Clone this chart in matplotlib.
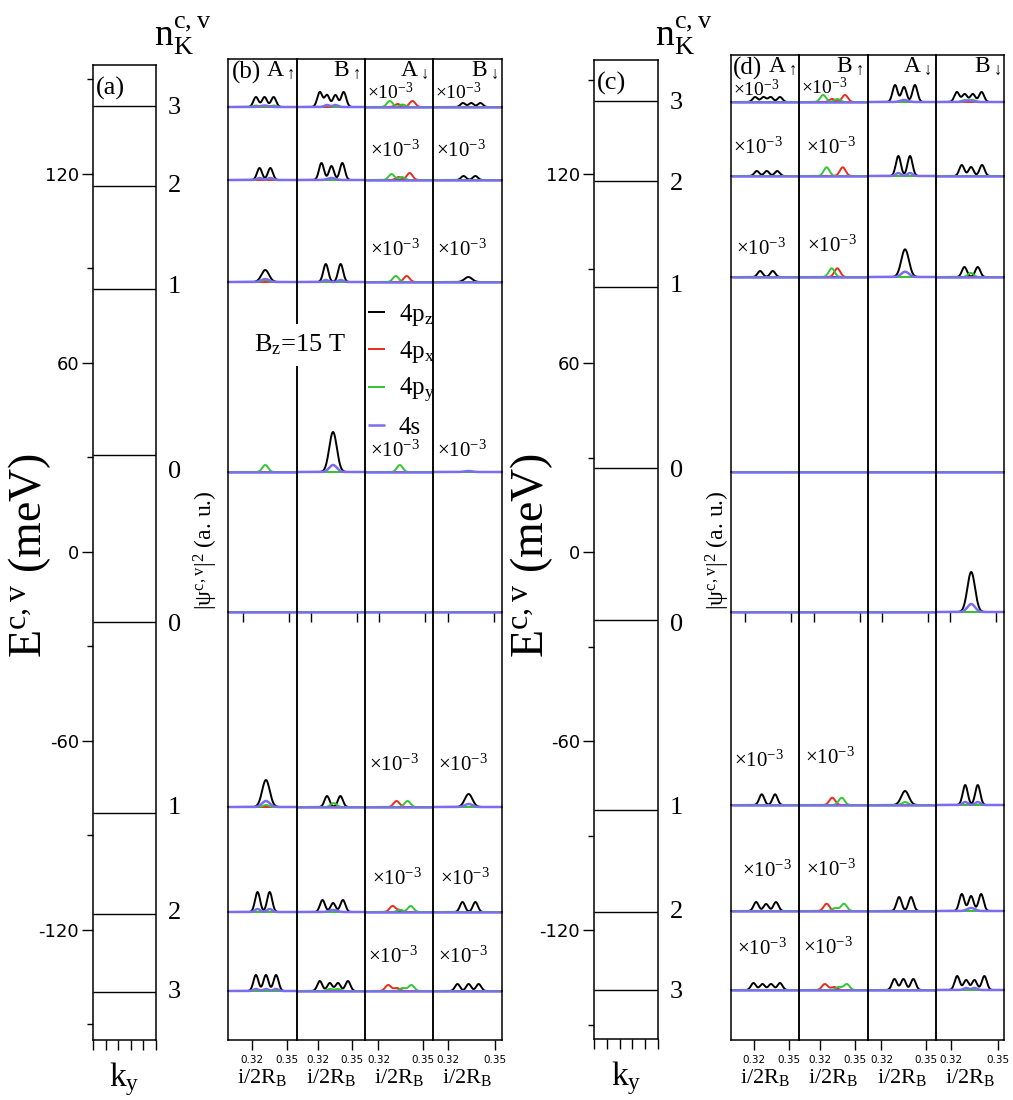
import numpy as np
import matplotlib.pyplot as plt
import matplotlib.transforms as mtransforms

plt.rcParams['font.family'] = ['Liberation Serif', 'DejaVu Serif']
plt.rcParams['mathtext.default'] = 'regular'
plt.rcParams['axes.unicode_minus'] = False

W, H = 1013, 1100
SANS = 'DejaVu Sans'

# ---------------- data ----------------
# Landau level energies (meV), panels (a) and (c)
A_LEVELS = [141.6, 116.2, 83.5, 30.8, -22.2, -82.9, -114.9, -139.7]
C_LEVELS = [143.2, 117.8, 84.1, 26.7, -21.6, -81.9, -114.3, -139.0]
NK_LABELS = ['3', '2', '1', '0', '0', '1', '2', '3']
A_LABEL_E = [140.9, 116.2, 84.1, 25.4, -23.2, -81.3, -114.6, -139.7]
C_LABEL_E = [142.5, 116.8, 84.5, 25.7, -23.2, -81.3, -114.3, -139.7]
E_TICKS = [-120, -60, 0, 60, 120]
E_MINOR = [-150, -90, -30, 30, 90, 150]

COLUMNS = ['A$_{\\uparrow}$', 'B$_{\\uparrow}$', 'A$_{\\downarrow}$', 'B$_{\\downarrow}$']
COL_XLIM = [(0.2997, 0.3590), (0.3015, 0.3615), (0.3110, 0.3565), (0.3102, 0.3542)]
ZERO_XLIM = (0.3105, 0.3555)
X_TICKS = [0.32, 0.35]

# |psi|^2 humps (centre, height a.u.), rows: n=3,2,1,0 (c), 0,1,2,3 (v); columns A_up, B_up, A_dn, B_dn
B_PZ = [
    [[(0.3237, 10), (0.3311, 10), (0.3389, 10)], [(0.3216, 15), (0.3280, 12), (0.3354, 12), (0.3427, 15)], [], [(0.3293, 4), (0.3346, 4), (0.3404, 4)]],
    [[(0.3268, 12), (0.3361, 12)], [(0.3231, 17), (0.3319, 14), (0.3415, 17)], [], [(0.3297, 4), (0.3372, 4)]],
    [[(0.3317, 12)], [(0.3269, 18), (0.3400, 18)], [], [(0.3327, 5)]],
    [[], [(0.3333, 40)], [], []],
    [[], [], [], []],
    [[(0.3323, 27)], [(0.3280, 11), (0.3398, 11)], [], [(0.3329, 13)]],
    [[(0.3251, 20), (0.3355, 20)], [(0.3240, 12), (0.3333, 9), (0.3420, 12)], [], [(0.3290, 10), (0.3372, 10)]],
    [[(0.3237, 16), (0.3323, 16), (0.3410, 16)], [(0.3216, 10), (0.3304, 8), (0.3377, 8), (0.3464, 10)], [], [(0.3258, 7), (0.3329, 7), (0.3393, 7)]],
]
B_PX = [
    [[], [], [(0.3427, 6), (0.3329, 3)], []],
    [[], [], [(0.3409, 7), (0.3336, 3)], []],
    [[], [], [(0.3389, 6)], []],
    [[], [], [], []],
    [[], [], [], []],
    [[], [], [(0.3321, 6)], []],
    [[], [], [(0.3294, 6), (0.3343, 2)], []],
    [[], [], [(0.3265, 6), (0.3323, 3)], []],
]
B_PY = [
    [[(0.3237, 1.5), (0.3389, 1.5)], [(0.3280, 1.5)], [(0.3276, 6), (0.3362, 2.5)], []],
    [[(0.3268, 1.5), (0.3361, 1.5)], [], [(0.3287, 6), (0.3356, 3)], []],
    [[(0.3317, 2)], [], [(0.3316, 6)], []],
    [[(0.3317, 7)], [], [(0.3343, 7)], []],
    [[], [], [], []],
    [[(0.3323, 2)], [(0.3339, 4)], [(0.3394, 6)], []],
    [[], [], [(0.3416, 6), (0.3343, 2)], []],
    [[], [(0.3304, 2), (0.3377, 2)], [(0.3420, 6), (0.3362, 3)], []],
]
B_S = [
    [[(0.3311, 1.5)], [(0.3280, 2), (0.3354, 2)], [], []],
    [[(0.3268, 2), (0.3361, 2)], [(0.3319, 2)], [], []],
    [[(0.3317, 3)], [(0.3269, 2), (0.3400, 2)], [], []],
    [[], [(0.3333, 7)], [], [(0.3327, 1)]],
    [[], [], [], []],
    [[(0.3323, 6)], [], [], [(0.3329, 3)]],
    [[(0.3251, 3), (0.3355, 3)], [(0.3333, 2)], [], []],
    [[(0.3237, 2), (0.3323, 2), (0.3410, 2)], [], [], []],
]

D_PZ = [
    [[(0.3207, 5), (0.3280, 5), (0.3343, 5), (0.3424, 5)], [], [(0.3291, 17), (0.3351, 15), (0.3424, 17)], [(0.3237, 10), (0.3288, 8), (0.3340, 8), (0.3397, 10)]],
    [[(0.3222, 5), (0.3309, 5), (0.3400, 5)], [], [(0.3313, 20), (0.3391, 20)], [(0.3269, 11), (0.3329, 9), (0.3400, 11)]],
    [[(0.3251, 6), (0.3361, 6)], [], [(0.3358, 27.7)], [(0.3286, 10), (0.3372, 10)]],
    [[], [], [], []],
    [[], [], [], [(0.3338, 40)]],
    [[(0.3265, 10.7), (0.3381, 10.7)], [], [(0.3358, 14)], [(0.3291, 20), (0.3372, 20)]],
    [[(0.3216, 9), (0.3303, 7), (0.3389, 9)], [], [(0.3318, 14), (0.3398, 14)], [(0.3269, 17), (0.3329, 15), (0.3394, 17)]],
    [[(0.3193, 7), (0.3271, 6), (0.3346, 6), (0.3424, 7)], [], [(0.3287, 11), (0.3347, 11), (0.3413, 11)], [(0.3239, 14), (0.3297, 10), (0.3351, 10), (0.3415, 14)]],
]
D_PX = [
    [[], [(0.3415, 7), (0.3304, 3)], [], []],
    [[], [(0.3395, 8.7)], [], []],
    [[], [(0.3348, 8.7)], [], []],
    [[], [], [], []],
    [[], [], [], []],
    [[], [(0.3304, 7.3)], [], []],
    [[], [(0.3255, 7.3)], [], []],
    [[], [(0.3240, 6), (0.3320, 3)], [], []],
]
D_PY = [
    [[], [(0.3225, 7), (0.3348, 3)], [], [(0.3288, 2), (0.3340, 2)]],
    [[], [(0.3255, 8.7)], [], []],
    [[], [(0.3299, 8.7)], [], [(0.3327, 4)]],
    [[], [], [], []],
    [[], [], [], []],
    [[], [(0.3386, 7.3)], [(0.3358, 3)], []],
    [[], [(0.3406, 7.3), (0.3330, 3)], [], []],
    [[], [(0.3430, 6), (0.3360, 3)], [], []],
]
D_S = [
    [[], [], [(0.3351, 2)], [(0.3314, 1.5)]],
    [[], [], [(0.3313, 3), (0.3391, 3)], []],
    [[], [], [(0.3358, 5.3)], []],
    [[], [], [], []],
    [[], [], [], [(0.3338, 8)]],
    [[], [], [], [(0.3291, 3), (0.3372, 3)]],
    [[], [], [], [(0.3329, 3)]],
    [[], [], [], [(0.3297, 2), (0.3351, 2)]],
]

# "x10^-3" notes: (row, column, x, y, size) in cell axes fraction
B_NOTES = [(0, 2, 0.03, 0.17, 14), (0, 3, 0.03, 0.17, 14), (1, 2, 0.08, 0.32, 15), (1, 3, 0.05, 0.32, 15),
           (2, 2, 0.07, 0.26, 15), (2, 3, 0.06, 0.26, 15), (3, 2, 0.07, 0.08, 15), (3, 3, 0.06, 0.08, 15),
           (5, 2, 0.06, 0.185, 15), (5, 3, 0.07, 0.185, 15), (6, 2, 0.11, 0.26, 15), (6, 3, 0.10, 0.26, 15),
           (7, 2, 0.05, 0.36, 15), (7, 3, 0.07, 0.36, 15)]
D_NOTES = [(0, 0, 0.03, 0.12, 14), (0, 1, 0.03, 0.17, 14), (1, 0, 0.03, 0.305, 15), (1, 1, 0.10, 0.30, 15),
           (2, 0, 0.08, 0.22, 15), (2, 1, 0.11, 0.245, 15), (5, 0, 0.05, 0.20, 15), (5, 1, 0.08, 0.215, 15),
           (6, 0, 0.16, 0.32, 15), (6, 1, 0.10, 0.33, 15), (7, 0, 0.09, 0.44, 15), (7, 1, 0.06, 0.46, 15)]

ORBITALS = ['4p$_z$', '4p$_x$', '4p$_y$', '4s']
COLORS = ['black', '#ee2a1e', '#33c633', '#7b6cf0']

# ---------------- layout (pixels) ----------------
B_COLS_X = [228, 297, 365, 433, 502]
B_ROWS_Y = [59, 107, 180, 282, 472, 612, 807, 912, 991, 1040]
D_COLS_X = [731, 799, 868, 936, 1004]
D_ROWS_Y = [55, 102, 176, 277, 472, 612, 805, 911, 990, 1040]

fig = plt.figure(figsize=(W / 100, H / 100), dpi=100)
fig.patch.set_facecolor('white')


def px_axes(left, top, right, bottom):
    return fig.add_axes([left / W, 1 - bottom / H, (right - left) / W, (bottom - top) / H])


def level_panel(left, top, right, bottom, levels, lab_e, ylim, tag, ylab_x, nk_x):
    ax = px_axes(left, top, right, bottom)
    ax.set_xlim(0, 5)
    ax.set_ylim(*ylim)
    ax.hlines(levels, 0, 5, color='black', lw=1.0)
    ax.set_yticks(E_TICKS)
    ax.set_yticklabels([str(t) for t in E_TICKS], family=SANS, fontsize=13)
    ax.set_yticks(E_MINOR, minor=True)
    ax.set_xticks(range(6))
    ax.set_xticklabels([])
    ax.tick_params(axis='y', which='major', direction='out', length=8, width=1, pad=2)
    ax.tick_params(axis='y', which='minor', direction='out', length=4, width=1)
    ax.tick_params(axis='x', direction='out', length=7, width=1)
    for sp in ax.spines.values():
        sp.set_linewidth(1.1)
    ax.set_xlabel('k$_y$', fontsize=24, labelpad=4)
    ax.text(0.05, 0.988, tag, transform=ax.transAxes, ha='left', va='top', fontsize=19)
    trans = mtransforms.blended_transform_factory(ax.transAxes, ax.transData)
    for e, lab in zip(lab_e, NK_LABELS):
        ax.text(1.29, e, lab, transform=trans, ha='center', va='center', fontsize=19)
    fig.text(ylab_x / W, 1 - 555 / H, 'E$^{c,v}$ (meV)', rotation=90,
             ha='center', va='center', fontsize=33)
    fig.text(nk_x / W, 1 - 36 / H, 'n$_K^{c,v}$', ha='center', va='center', fontsize=27)
    return ax


def curve(x, humps, sig):
    y = np.zeros_like(x)
    for c, h in humps:
        y += h * np.exp(-0.5 * ((x - c) / sig) ** 2)
    return y


def wave_panel(cols_x, rows_y, data, notes, tag, tag_x, col_lab_x, ylab_x):
    cells = {}
    nrows = len(rows_y) - 1
    for r in range(nrows):
        top, bot = rows_y[r], rows_y[r + 1]
        for c in range(4):
            left, right = cols_x[c], cols_x[c + 1]
            ax = px_axes(left, top, right, bot)
            ax.set_facecolor('none')
            xlim = ZERO_XLIM if r == 4 else COL_XLIM[c]
            ax.set_xlim(*xlim)
            ax.set_ylim(0, bot - top)
            ax.set_yticks([])
            for sp in ax.spines.values():
                sp.set_linewidth(1.1)
            ax.spines['top'].set_visible(r == 0)
            ax.spines['bottom'].set_visible(r == nrows - 1)
            if r == 4 or r == nrows - 1:
                ax.set_xticks(X_TICKS)
                ax.tick_params(axis='x', direction='out', length=7.5, width=1, pad=3)
                if r == 4:
                    ax.set_xticklabels([])
                else:
                    ax.set_xticklabels([f'{t:.2f}' for t in X_TICKS], family=SANS, fontsize=7.5)
                    ax.set_xlabel('i/2R$_B$', fontsize=16, labelpad=2)
            else:
                ax.set_xticks([])
            if r < 8:
                x = np.linspace(xlim[0], xlim[1], 500)
                px_per = (xlim[1] - xlim[0]) / (right - left)
                for k, (series, color) in enumerate(zip(data, COLORS)):
                    humps = series[r][c]
                    if k in (0, 3):
                        sig = (3.8 if len(humps) == 1 else 2.5) * px_per
                    else:
                        sig = 2.9 * px_per
                    lw = 1.8 if k == 3 else 1.4
                    ax.plot(x, curve(x, humps, sig), color=color, lw=lw,
                            clip_on=False, label=ORBITALS[k], solid_capstyle='butt')
            cells[(r, c)] = ax
    for c in range(4):
        ax = cells[(0, c)]
        ax.text(col_lab_x[c], 0.99, COLUMNS[c], transform=ax.transAxes,
                ha='right', va='top', fontsize=17)
    cells[(0, 0)].text(tag_x, 0.97, tag, transform=cells[(0, 0)].transAxes,
                       ha='left', va='top', fontsize=18)
    for r, c, xf, yf, fs in notes:
        cells[(r, c)].text(xf, yf, '×10$^{-3}$', transform=cells[(r, c)].transAxes,
                           ha='left', va='baseline', fontsize=fs)
    fig.text(ylab_x / W, 1 - 550 / H, '|ψ$^{c,v}$|$^2$ (a. u.)', rotation=90,
             ha='center', va='center', fontsize=17)
    return cells


level_panel(93, 65, 156, 1040, A_LEVELS, A_LABEL_E, (-155, 154.6), '(a)', 30, 183)
level_panel(594, 60, 658, 1039, C_LEVELS, C_LABEL_E, (-154.6, 156.2), '(c)', 532, 684)

b_cells = wave_panel(B_COLS_X, B_ROWS_Y, [B_PZ, B_PX, B_PY, B_S], B_NOTES,
                     '(b)', 0.06, [0.96, 0.93, 0.93, 0.94], 206)
d_cells = wave_panel(D_COLS_X, D_ROWS_Y, [D_PZ, D_PX, D_PY, D_S], D_NOTES,
                     '(d)', 0.03, [0.97, 0.93, 0.93, 0.96], 718)

leg = b_cells[(3, 2)].legend(loc='upper left', bbox_to_anchor=(0.0, 0.91), frameon=False,
                             fontsize=18, handlelength=0.7, handletextpad=0.55,
                             labelspacing=0.45, borderaxespad=0.0, borderpad=0.1)

fig.text(300 / W, 1 - 345 / H, 'B$_z$=15 T', ha='center', va='center', fontsize=19,
         bbox=dict(facecolor='white', edgecolor='none', pad=6))

fig.savefig('out.png', dpi=100, facecolor='white')
